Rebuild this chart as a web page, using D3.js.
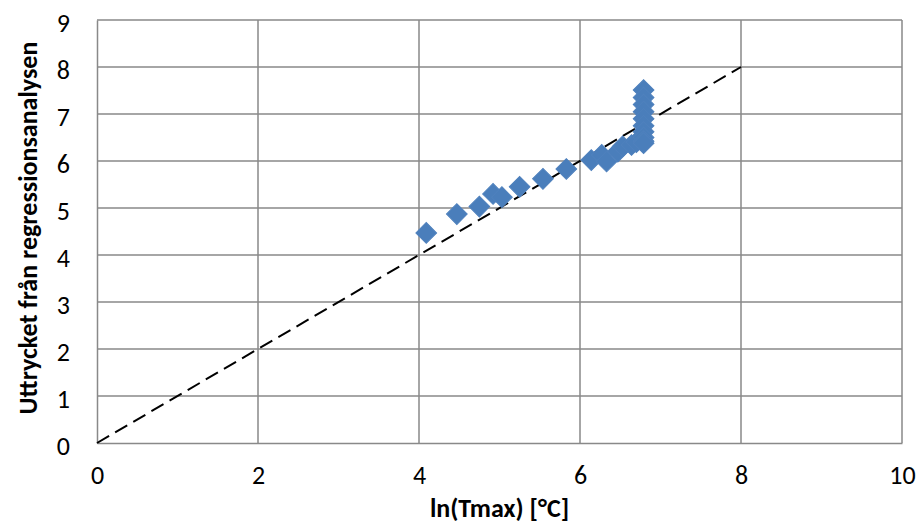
<!DOCTYPE html>
<html><head><meta charset="utf-8">
<script src="https://cdn.jsdelivr.net/npm/d3@7"></script>
<style>body{margin:0;background:#fff;} svg{display:block;}</style>
</head><body>
<svg id="c" width="916" height="531"></svg>
<script>
const xVals = [4.09, 4.47, 4.75, 4.92, 5.03, 5.25, 5.54, 5.83, 6.14, 6.27, 6.33, 6.47, 6.53, 6.64, 6.70, 6.79, 6.79, 6.79, 6.79, 6.79, 6.79, 6.79, 6.79, 6.79, 6.79];
const yVals = [4.47, 4.87, 5.03, 5.30, 5.23, 5.45, 5.62, 5.83, 6.02, 6.13, 5.99, 6.20, 6.31, 6.34, 6.40, 7.51, 7.35, 7.20, 7.05, 6.90, 6.75, 6.62, 6.50, 6.42, 6.38];
const xTicks = [0, 2, 4, 6, 8, 10];
const yTicks = [0, 1, 2, 3, 4, 5, 6, 7, 8, 9];
const refLine = [0, 8];
const xTitle = "ln(Tmax) [°C]";
const yTitle = "Uttrycket från regressionsanalysen";

const svg = d3.select("#c");
const x = d3.scaleLinear().domain([0, 10]).range([97, 902]);
const y = d3.scaleLinear().domain([0, 9]).range([443, 20]);
const font = "Carlito, 'Open Sans', sans-serif";

const g = svg.append("g");
g.selectAll(".gx").data(xTicks.slice(1)).enter().append("line")
  .attr("x1", d => x(d)).attr("x2", d => x(d)).attr("y1", y(0)).attr("y2", y(9))
  .attr("stroke", "#898989").attr("stroke-width", 1.5);
g.selectAll(".gy").data(yTicks.slice(1)).enter().append("line")
  .attr("x1", x(0)).attr("x2", x(10)).attr("y1", d => y(d)).attr("y2", d => y(d))
  .attr("stroke", "#898989").attr("stroke-width", 1.5);

const xAxis = d3.axisBottom(x).tickValues(xTicks).tickSize(0).tickPadding(23);
const yAxis = d3.axisLeft(y).tickValues(yTicks).tickSize(0).tickPadding(27);
const gx = svg.append("g").attr("transform", `translate(0,${y(0)})`).call(xAxis);
const gy = svg.append("g").attr("transform", `translate(${x(0)},0)`).call(yAxis);
[gx, gy].forEach(a => {
  a.select(".domain").attr("stroke", "#898989").attr("stroke-width", 1.5);
  a.selectAll("text").attr("font-family", font).attr("font-size", 26).attr("fill", "#000");
});
gy.selectAll("text").attr("dy", "0.45em");

svg.append("line")
  .attr("x1", x(refLine[0])).attr("y1", y(refLine[0]))
  .attr("x2", x(refLine[1])).attr("y2", y(refLine[1]))
  .attr("stroke", "#000").attr("stroke-width", 2).attr("stroke-dasharray", "14,7");

const sym = d3.symbol().type(d3.symbolSquare).size(215);
svg.selectAll(".pt").data(xVals.map((v, i) => [v, yVals[i]])).enter().append("path")
  .attr("d", sym)
  .attr("transform", d => `translate(${x(d[0])},${y(d[1])}) rotate(45)`)
  .attr("fill", "#4a7ebb").attr("stroke", "#4f81bd").attr("stroke-width", 1);

svg.append("text").attr("x", (x(0) + x(10)) / 2).attr("y", 517)
  .attr("text-anchor", "middle").attr("font-family", font).attr("font-weight", "bold")
  .attr("font-size", 26).text(xTitle);
svg.append("text").attr("transform", `translate(37,228) rotate(-90)`)
  .attr("text-anchor", "middle").attr("font-family", font).attr("font-weight", "bold")
  .attr("font-size", 26).text(yTitle);
</script>
</body></html>
